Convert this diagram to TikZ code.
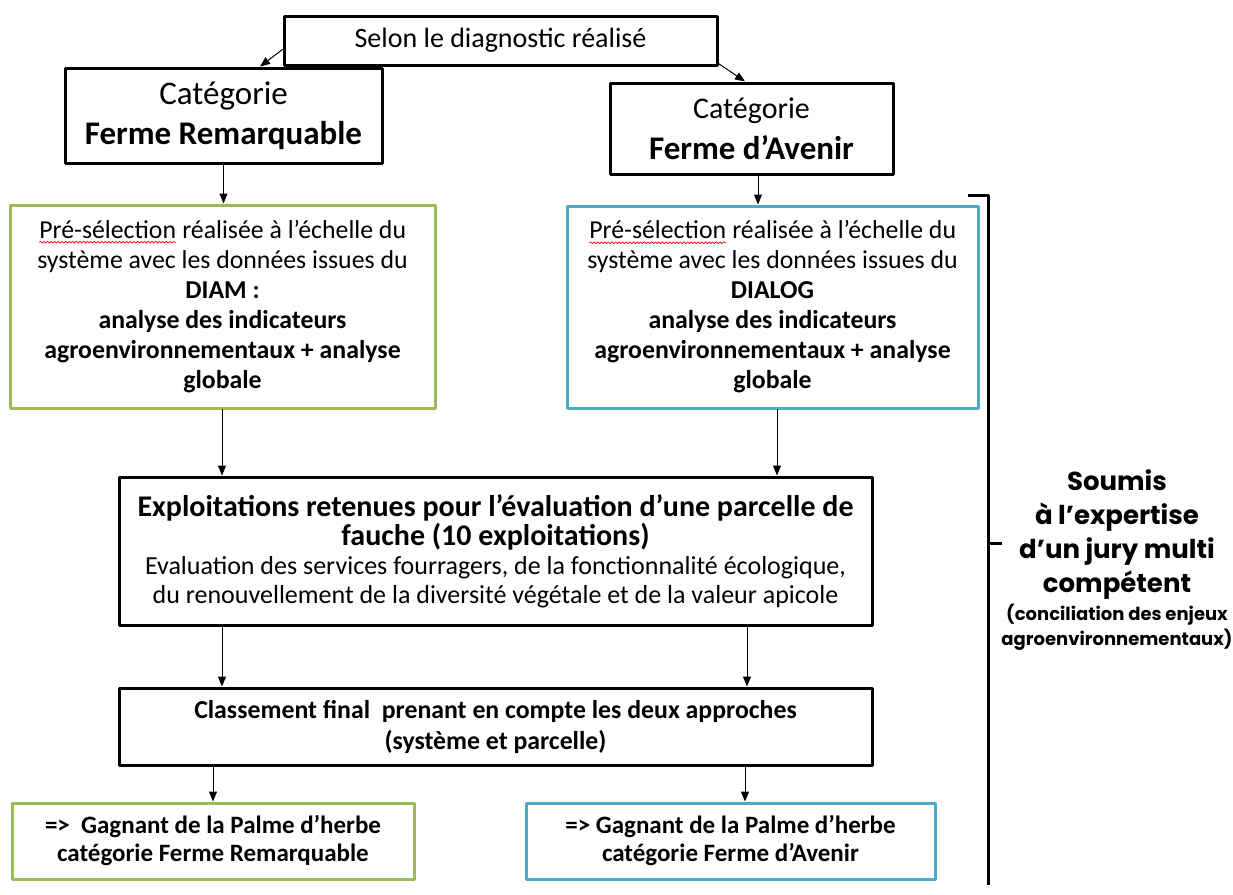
\documentclass[tikz,border=0pt]{standalone}
\usepackage{fontspec}
\setmainfont{Carlito}
\newfontfamily\gothic{Poppins}
\usepackage{tikz}
\usetikzlibrary{arrows.meta,decorations.pathmorphing}
\definecolor{olive}{RGB}{155,187,89}
\definecolor{aqua}{RGB}{75,172,198}
\tikzset{
  box/.style={draw=black,line width=1.5pt,align=center,inner sep=2pt,fill=white},
  greenbox/.style={box,draw=olive},
  bluebox/.style={box,draw=aqua},
  link/.style={->,line width=0.5pt},
  brace/.style={line width=1.5pt,line cap=butt}
}
\newcommand{\smalljury}[1]{{\fontsize{9}{11}\selectfont #1}}
\newcommand{\spellmark}[1]{\tikz[baseline=(w.base)]{\node[inner sep=0pt,outer sep=0pt,draw=none,fill=none,minimum width=0pt,minimum height=0pt] (w) {#1};
  \draw[red,line width=0.35pt,decorate,decoration={snake,amplitude=0.45pt,segment length=1.8pt}] ([yshift=-1.8pt]w.south west) -- ([yshift=-1.8pt]w.south east);}}
\begin{document}
\begin{tikzpicture}[line cap=round,line join=round,>={Triangle[length=5pt,width=4pt]},x=0.5pt,y=-0.5pt]
\useasboundingbox (0,0) rectangle (1233,895);
\node[box,minimum width=216.5pt,minimum height=24.5pt,font=\fontsize{14}{16}\selectfont] (diag) at (500.5,40.5) {Selon le diagnostic réalisé};
\node[box,minimum width=158.5pt,minimum height=47.5pt,font=\fontsize{16.5}{20}\selectfont] (catL) at (223.5,115.5) {Catégorie\\\textbf{Ferme Remarquable}};
\node[box,minimum width=141.5pt,minimum height=45.5pt,font=\fontsize{15}{20.5}\selectfont] (catR) at (751.5,128.5) {Catégorie\\{\fontsize{16.5}{20.5}\selectfont\textbf{Ferme d’Avenir}}};
\node[greenbox,minimum width=212.5pt,minimum height=101.5pt,font=\fontsize{12.9}{15}\selectfont] (preL) at (222.5,306.5) {\spellmark{Pré-sélection} réalisée à l’échelle du\\système avec les données issues du\\\textbf{DIAM :}\\\textbf{analyse des indicateurs}\\\textbf{agroenvironnementaux + analyse}\\\textbf{globale}};
\node[bluebox,minimum width=205.5pt,minimum height=101pt,font=\fontsize{12.9}{15}\selectfont] (preR) at (772.5,307) {\spellmark{Pré-sélection} réalisée à l’échelle du\\système avec les données issues du\\\textbf{DIALOG}\\\textbf{analyse des indicateurs}\\\textbf{agroenvironnementaux + analyse}\\\textbf{globale}};
\node[box,minimum width=376.5pt,minimum height=74pt,font=\fontsize{13}{14.5}\selectfont] (expl) at (495.5,551) {{\fontsize{15}{17.5}\selectfont\textbf{Exploitations retenues pour l’évaluation d’une parcelle de}}\\{\fontsize{15}{17.5}\selectfont\textbf{fauche (10 exploitations)}}\\Evaluation des services fourragers, de la fonctionnalité écologique,\\du renouvellement de la diversité végétale et de la valeur apicole};
\node[box,minimum width=376.5pt,minimum height=38.5pt,font=\fontsize{12.9}{15.5}\selectfont\bfseries] (class) at (495.5,726.5) {Classement final~~prenant en compte les deux approches\\(système et parcelle)};
\node[greenbox,minimum width=201pt,minimum height=38pt,font=\fontsize{12.5}{14}\selectfont\bfseries] (botL) at (213,841) {=>~~Gagnant de la Palme d’herbe\\catégorie Ferme Remarquable};
\node[bluebox,minimum width=204.5pt,minimum height=38pt,font=\fontsize{12.5}{14}\selectfont\bfseries] (botR) at (730.5,841) {=> Gagnant de la Palme d’herbe\\catégorie Ferme d’Avenir};
\node[align=center,font=\gothic\bfseries\fontsize{13}{17}\selectfont] (jury) at (1117,560) {Soumis\\à l’expertise\\d’un jury multi\\compétent\\[-3pt]\smalljury{(conciliation des enjeux}\\[-4.5pt]\smalljury{agroenvironnementaux)}};
\coordinate (xa) at (260,0);
\coordinate (xb) at (745,0);
\coordinate (xc) at (758,0);
\coordinate (xd) at (777,0);
\coordinate (xe) at (747,0);
\coordinate (xf) at (222,0);
\coordinate (xg) at (213,0);
\coordinate (bt) at (988,195);
\coordinate (bb) at (988,885);
\coordinate (bm) at (988,543);
\draw[link] ([yshift=-4.5pt]diag.west) -- (catL.north -| xa);
\draw[link] ([yshift=1.5pt]diag.south east) -- (catR.north -| xb);
\draw[link] (catL.south) -- (catL.south |- preL.north);
\draw[link] (catR.south -| xc) -- (preR.north -| xc);
\draw[link] (preL.south -| xf) -- (expl.north -| xf);
\draw[link] (preR.south -| xd) -- (expl.north -| xd);
\draw[link] (expl.south -| xf) -- (class.north -| xf);
\draw[link] (expl.south -| xe) -- (class.north -| xe);
\draw[link] (class.south -| xg) -- (botL.north);
\draw[link] (class.south -| xb) -- (botR.north -| xb);
\draw[brace] ([xshift=-10pt]bt) -- (bt) -- (bb);
\draw[brace] (bm) -- ([xshift=7pt]bm);
\end{tikzpicture}
\end{document}
